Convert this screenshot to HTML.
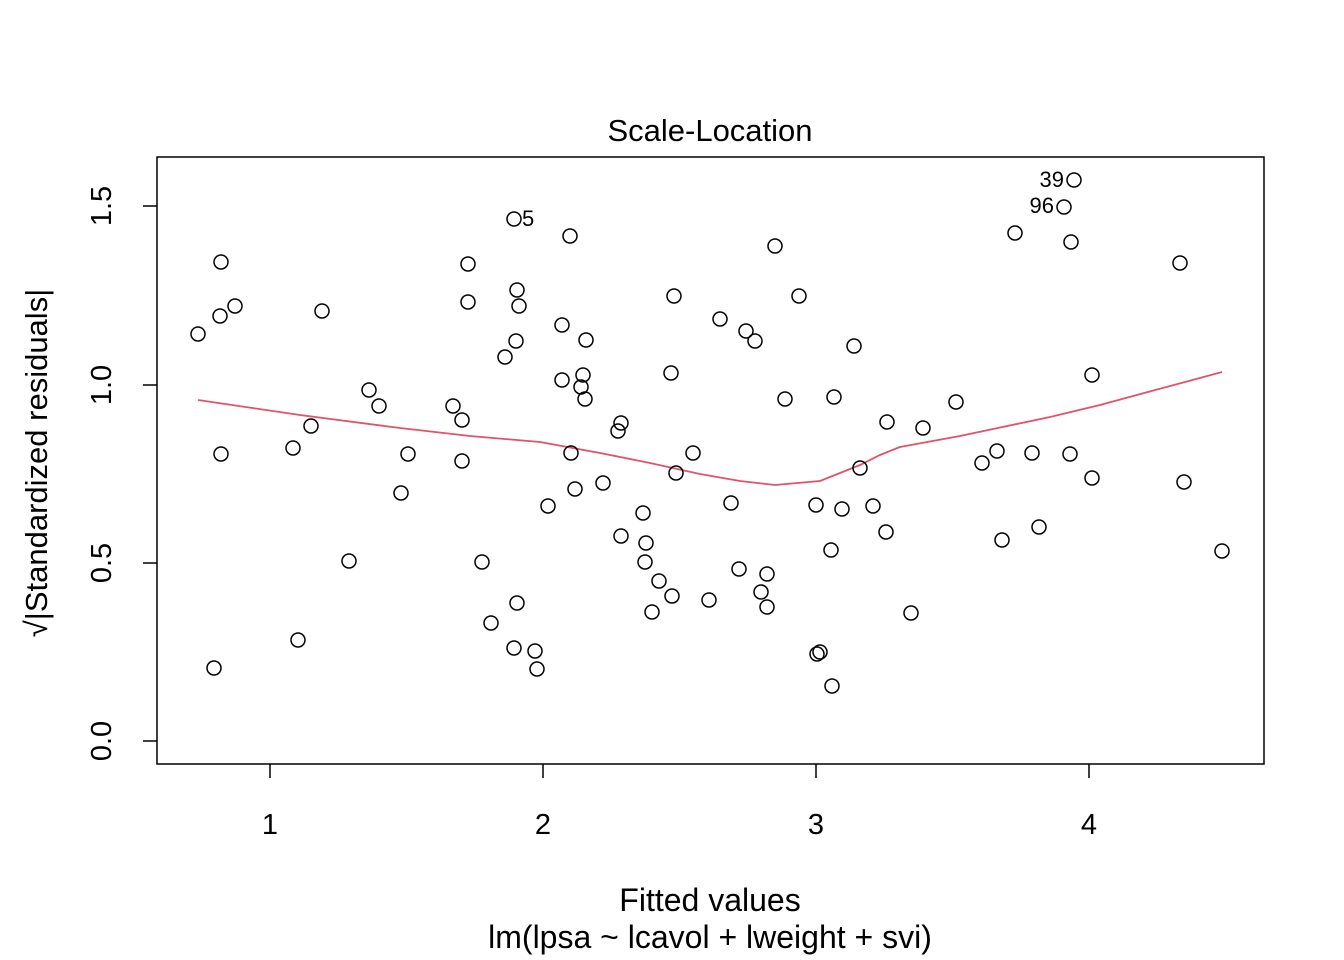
<!DOCTYPE html>
<html><head><meta charset="utf-8"><style>body{margin:0;background:#fff}svg{display:block}text{font-family:"Liberation Sans",Arial,sans-serif;fill:#000}</style></head>
<body>
<svg width="1344" height="960" viewBox="0 0 1344 960" xmlns="http://www.w3.org/2000/svg">
<rect x="157" y="157" width="1107" height="607" fill="none" stroke="#000" stroke-width="1.5"/>
<text x="710" y="141" font-size="31" text-anchor="middle">Scale-Location</text>
<g stroke="#000" stroke-width="1.5">
<line x1="270" y1="764" x2="270" y2="778"/><line x1="543" y1="764" x2="543" y2="778"/><line x1="816" y1="764" x2="816" y2="778"/><line x1="1089" y1="764" x2="1089" y2="778"/>
<line x1="143" y1="206" x2="157" y2="206"/><line x1="143" y1="385" x2="157" y2="385"/><line x1="143" y1="563" x2="157" y2="563"/><line x1="143" y1="741" x2="157" y2="741"/>
</g>
<g font-size="29" text-anchor="middle">
<text x="270" y="834">1</text><text x="543" y="834">2</text><text x="816" y="834">3</text><text x="1089" y="834">4</text>
<text transform="translate(111,206) rotate(-90)">1.5</text>
<text transform="translate(111,385) rotate(-90)">1.0</text>
<text transform="translate(111,563) rotate(-90)">0.5</text>
<text transform="translate(111,741) rotate(-90)">0.0</text>
</g>
<text x="710" y="911" font-size="32" text-anchor="middle">Fitted values</text>
<text x="710" y="948" font-size="32" text-anchor="middle">lm(lpsa ~ lcavol + lweight + svi)</text>
<text transform="translate(47,463) rotate(-90)" font-size="31" text-anchor="middle">√|Standardized residuals|</text>
<polyline fill="none" stroke="#DF536B" stroke-width="1.8" points="198,400 300,415 400,428 470,436 540,442 600,453 650,463 700,474 740,481 775,485 820,481 860,465 880,455 900,447 960,436 1050,417 1100,405 1222,372"/>
<g fill="none" stroke="#000" stroke-width="1.5">
<circle cx="198" cy="334" r="7"/><circle cx="214" cy="668" r="7"/><circle cx="221" cy="262" r="7"/><circle cx="220" cy="316" r="7"/><circle cx="221" cy="454" r="7"/><circle cx="235" cy="306" r="7"/><circle cx="293" cy="448" r="7"/><circle cx="298" cy="640" r="7"/><circle cx="311" cy="426" r="7"/><circle cx="322" cy="311" r="7"/><circle cx="349" cy="561" r="7"/><circle cx="369" cy="390" r="7"/><circle cx="379" cy="406" r="7"/><circle cx="401" cy="493" r="7"/><circle cx="408" cy="454" r="7"/><circle cx="453" cy="406" r="7"/><circle cx="462" cy="420" r="7"/><circle cx="462" cy="461" r="7"/><circle cx="468" cy="264" r="7"/><circle cx="468" cy="302" r="7"/><circle cx="482" cy="562" r="7"/><circle cx="491" cy="623" r="7"/><circle cx="505" cy="357" r="7"/><circle cx="514" cy="219" r="7"/><circle cx="514" cy="648" r="7"/><circle cx="517" cy="290" r="7"/><circle cx="516" cy="341" r="7"/><circle cx="519" cy="306" r="7"/><circle cx="517" cy="603" r="7"/><circle cx="535" cy="651" r="7"/><circle cx="537" cy="669" r="7"/><circle cx="548" cy="506" r="7"/><circle cx="562" cy="325" r="7"/><circle cx="562" cy="380" r="7"/><circle cx="570" cy="236" r="7"/><circle cx="571" cy="453" r="7"/><circle cx="575" cy="489" r="7"/><circle cx="581" cy="387" r="7"/><circle cx="583" cy="375" r="7"/><circle cx="585" cy="399" r="7"/><circle cx="586" cy="340" r="7"/><circle cx="603" cy="483" r="7"/><circle cx="618" cy="431" r="7"/><circle cx="621" cy="423" r="7"/><circle cx="621" cy="536" r="7"/><circle cx="643" cy="513" r="7"/><circle cx="646" cy="543" r="7"/><circle cx="645" cy="562" r="7"/><circle cx="652" cy="612" r="7"/><circle cx="659" cy="581" r="7"/><circle cx="672" cy="596" r="7"/><circle cx="671" cy="373" r="7"/><circle cx="674" cy="296" r="7"/><circle cx="676" cy="473" r="7"/><circle cx="693" cy="453" r="7"/><circle cx="709" cy="600" r="7"/><circle cx="720" cy="319" r="7"/><circle cx="731" cy="503" r="7"/><circle cx="739" cy="569" r="7"/><circle cx="746" cy="331" r="7"/><circle cx="755" cy="341" r="7"/><circle cx="761" cy="592" r="7"/><circle cx="767" cy="574" r="7"/><circle cx="767" cy="607" r="7"/><circle cx="775" cy="246" r="7"/><circle cx="785" cy="399" r="7"/><circle cx="799" cy="296" r="7"/><circle cx="816" cy="505" r="7"/><circle cx="817" cy="654" r="7"/><circle cx="820" cy="652" r="7"/><circle cx="831" cy="550" r="7"/><circle cx="832" cy="686" r="7"/><circle cx="834" cy="397" r="7"/><circle cx="842" cy="509" r="7"/><circle cx="854" cy="346" r="7"/><circle cx="860" cy="468" r="7"/><circle cx="873" cy="506" r="7"/><circle cx="886" cy="532" r="7"/><circle cx="887" cy="422" r="7"/><circle cx="911" cy="613" r="7"/><circle cx="923" cy="428" r="7"/><circle cx="956" cy="402" r="7"/><circle cx="982" cy="463" r="7"/><circle cx="997" cy="451" r="7"/><circle cx="1002" cy="540" r="7"/><circle cx="1015" cy="233" r="7"/><circle cx="1032" cy="453" r="7"/><circle cx="1039" cy="527" r="7"/><circle cx="1064" cy="207" r="7"/><circle cx="1071" cy="242" r="7"/><circle cx="1070" cy="454" r="7"/><circle cx="1074" cy="180" r="7"/><circle cx="1092" cy="375" r="7"/><circle cx="1092" cy="478" r="7"/><circle cx="1180" cy="263" r="7"/><circle cx="1184" cy="482" r="7"/><circle cx="1222" cy="551" r="7"/>
</g>
<g font-size="22">
<text x="522" y="226">5</text>
<text x="1064" y="187" text-anchor="end">39</text>
<text x="1054" y="213" text-anchor="end">96</text>
</g>
</svg>
</body></html>
